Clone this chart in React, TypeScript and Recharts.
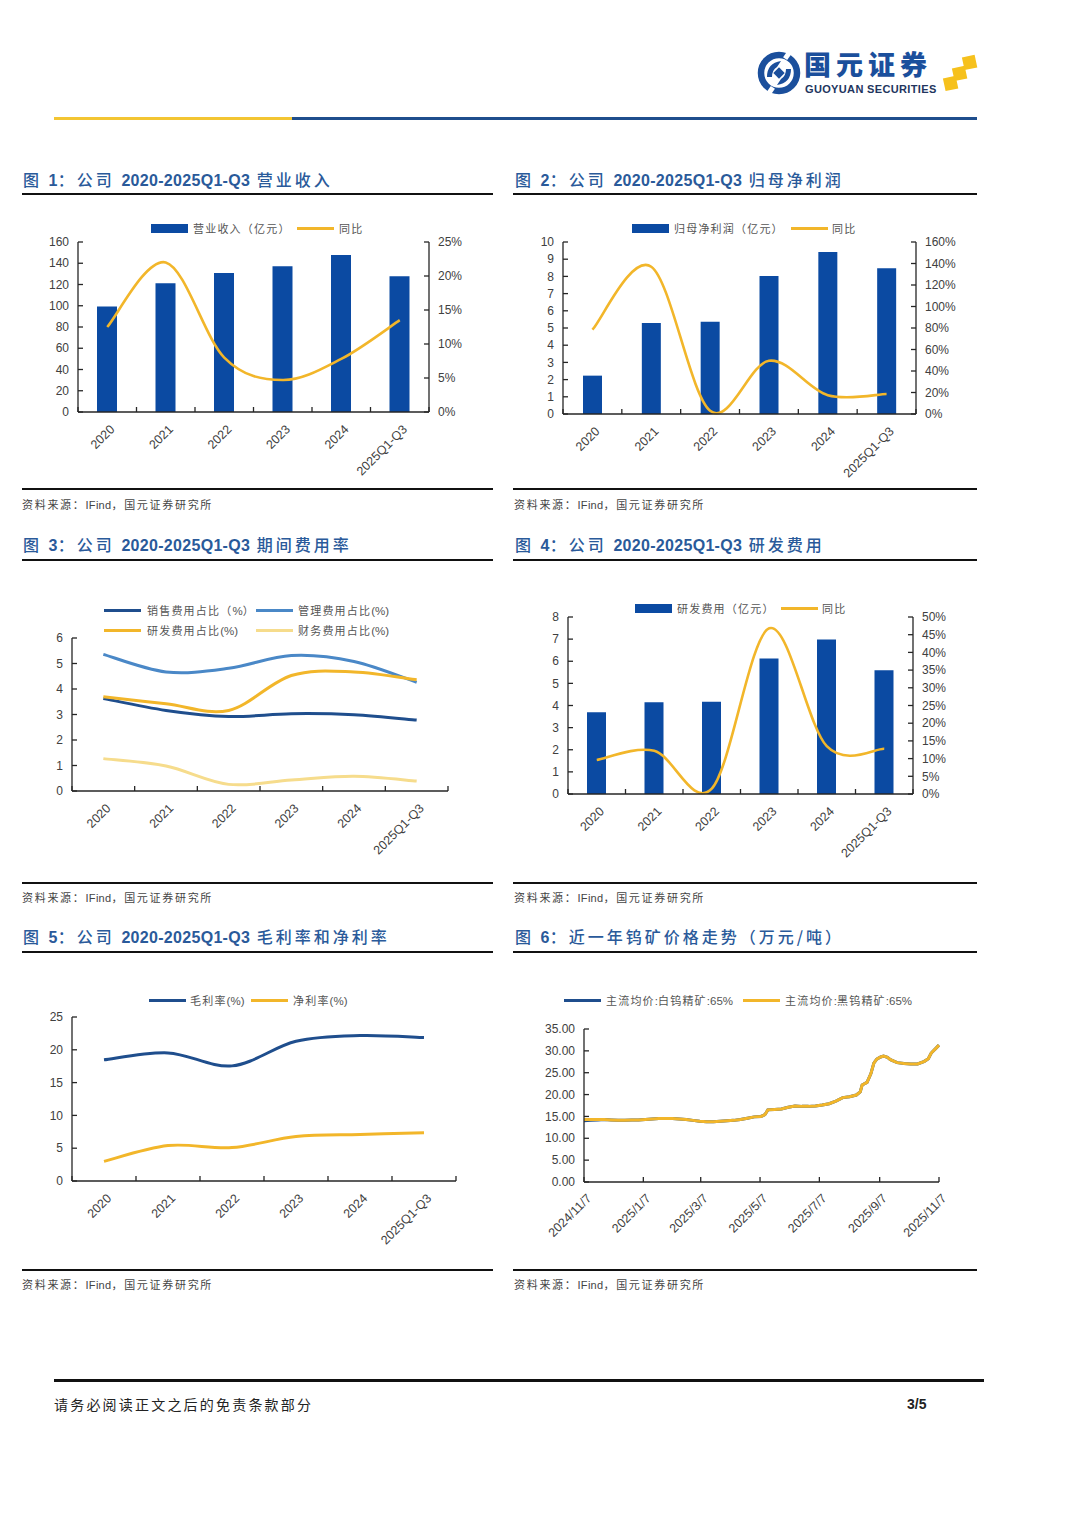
import React from 'react';
import { ComposedChart, LineChart, Bar, Line, XAxis, YAxis } from 'recharts';

// ---------------- DATA ----------------
const years = ['2020', '2021', '2022', '2023', '2024', '2025Q1-Q3'];

const revenue = [99.3, 121.2, 130.9, 137.1, 147.8, 127.7];
const revenueYoY = [12.5, 22.0, 8.0, 4.7, 7.8, 13.5];

const netProfit = [2.23, 5.29, 5.37, 8.02, 9.42, 8.47];
const netProfitYoY = [78.4, 137, 3.0, 49.5, 17.5, 18.6];

const salesRatio = [3.63, 3.16, 2.92, 3.03, 2.99, 2.78];
const adminRatio = [5.36, 4.67, 4.81, 5.31, 5.08, 4.26];
const rdRatio = [3.70, 3.42, 3.16, 4.53, 4.67, 4.36];
const finRatio = [1.27, 0.98, 0.26, 0.43, 0.58, 0.39];

const rdExpense = [3.70, 4.15, 4.17, 6.12, 6.98, 5.59];
const rdYoY = [9.6, 12.2, 1.5, 46.8, 13.5, 12.8];

const grossMargin = [18.47, 19.53, 17.55, 21.3, 22.17, 21.86];
const netMargin = [2.99, 5.4, 5.1, 6.78, 7.1, 7.34];

const priceDates = [
  '2024/11/7', '2024/11/14', '2024/11/21', '2024/11/28', '2024/12/5', '2024/12/12', '2024/12/19', '2024/12/26',
  '2025/1/2', '2025/1/9', '2025/1/16', '2025/1/23', '2025/1/30', '2025/2/6', '2025/2/13', '2025/2/20', '2025/2/27',
  '2025/3/6', '2025/3/13', '2025/3/20', '2025/3/27', '2025/4/3', '2025/4/10', '2025/4/17', '2025/4/24',
  '2025/5/1', '2025/5/8', '2025/5/12', '2025/5/15', '2025/5/22', '2025/5/29', '2025/6/5', '2025/6/12',
  '2025/6/19', '2025/6/26', '2025/7/3', '2025/7/10', '2025/7/17', '2025/7/24', '2025/7/31', '2025/8/7',
  '2025/8/14', '2025/8/18', '2025/8/20', '2025/8/25', '2025/8/29', '2025/9/1', '2025/9/4', '2025/9/8',
  '2025/9/11', '2025/9/15', '2025/9/18', '2025/9/25', '2025/10/2', '2025/10/9', '2025/10/16', '2025/10/23',
  '2025/10/27', '2025/10/30', '2025/11/3', '2025/11/7',
];
const blackTungsten = [
  14.3, 14.3, 14.3, 14.3, 14.2, 14.1, 14.1, 14.2,
  14.2, 14.3, 14.4, 14.5, 14.5, 14.5, 14.4, 14.3, 14.1,
  13.9, 13.8, 13.8, 13.9, 14.0, 14.1, 14.3, 14.6,
  14.9, 15.0, 15.4, 16.5, 16.6, 16.7, 17.1, 17.4,
  17.3, 17.3, 17.4, 17.6, 17.9, 18.5, 19.3, 19.5,
  19.9, 20.6, 22.2, 22.8, 24.8, 27.2, 28.1, 28.6,
  28.8, 28.5, 28.0, 27.3, 27.1, 27.0, 27.0, 27.6,
  28.2, 29.5, 30.4, 31.3,
];
const whiteTungsten = [
  14.0, 14.1, 14.2, 14.3, 14.2, 14.1, 14.1, 14.2,
  14.2, 14.3, 14.4, 14.5, 14.5, 14.5, 14.4, 14.3, 14.1,
  13.9, 13.8, 13.8, 13.9, 14.0, 14.1, 14.3, 14.6,
  14.9, 15.0, 15.4, 16.5, 16.6, 16.7, 17.1, 17.4,
  17.3, 17.3, 17.4, 17.6, 17.9, 18.5, 19.3, 19.5,
  19.9, 20.6, 22.2, 22.8, 24.8, 27.2, 28.1, 28.6,
  28.8, 28.5, 28.0, 27.3, 27.1, 27.0, 27.0, 27.6,
  28.2, 29.5, 30.4, 31.3,
];
const priceTickLabels = ['2024/11/7', '2025/1/7', '2025/3/7', '2025/5/7', '2025/7/7', '2025/9/7', '2025/11/7'];

// ---------------- STYLE ----------------
const BAR = '#0b4aa2';
const GOLD = '#f2b62a';
const DARKBLUE = '#1f4e8d';
const MIDBLUE = '#4a88c7';
const PALEGOLD = '#f6dc8c';
const AXIS = '#262626';
const TICK = '#404040';
const TITLE = '#2a5a9a';
const LATIN = '"Liberation Sans", Arial, "Noto Sans CJK SC", sans-serif';
const CJK = '"Noto Sans CJK SC", "Liberation Sans", sans-serif';

// Excel-like smoothed line (Catmull-Rom as cubic Bezier)
const excelSmooth: any = (context: any) => {
  let pts: number[][] = [];
  return {
    areaStart() {},
    areaEnd() {},
    lineStart() { pts = []; },
    point(x: number, y: number) { pts.push([+x, +y]); },
    lineEnd() {
      const n = pts.length;
      if (!n) return;
      context.moveTo(pts[0][0], pts[0][1]);
      for (let i = 0; i < n - 1; i++) {
        const p0 = pts[i - 1] || pts[i];
        const p1 = pts[i];
        const p2 = pts[i + 1];
        const p3 = pts[i + 2] || pts[i + 1];
        context.bezierCurveTo(
          p1[0] + (p2[0] - p0[0]) / 6, p1[1] + (p2[1] - p0[1]) / 6,
          p2[0] - (p3[0] - p1[0]) / 6, p2[1] - (p3[1] - p1[1]) / 6,
          p2[0], p2[1],
        );
      }
    },
  };
};

const catTicks = [0, 0.5, 1, 1.5, 2, 2.5, 3, 3.5, 4, 4.5, 5, 5.5, 6];
const axisLine = { stroke: AXIS, strokeWidth: 1.3 };

function CatTick(props: any) {
  const { x, y, payload, labels } = props;
  const v = payload.value;
  if (Number.isInteger(v)) {
    return <line x1={x} x2={x} y1={y} y2={y - 5} stroke={AXIS} strokeWidth={1.3} />;
  }
  const label = labels[Math.floor(v)];
  const tx = x + 5;
  const ty = y + 15;
  return (
    <text x={tx} y={ty} dy="0.35em" textAnchor="end" fontSize={12.5} fill={TICK} fontFamily={LATIN}
      transform={`rotate(-45 ${tx} ${ty})`}>{label}</text>
  );
}

function DateTick(props: any) {
  const { x, y, payload, labels } = props;
  const tx = x + 5;
  const ty = y + 14;
  return (
    <g>
      <line x1={x} x2={x} y1={y} y2={y - 5} stroke={AXIS} strokeWidth={1.3} />
      <text x={tx} y={ty} dy="0.35em" textAnchor="end" fontSize={12.5} fill={TICK} fontFamily={LATIN}
        transform={`rotate(-45 ${tx} ${ty})`}>{labels[payload.index] ?? ''}</text>
    </g>
  );
}

function LeftTick(props: any) {
  const { x, y, payload, fmt } = props;
  return (
    <g>
      <line x1={x + 9} x2={x + 14} y1={y} y2={y} stroke={AXIS} strokeWidth={1.3} />
      <text x={x} y={y} dy="0.35em" textAnchor="end" fontSize={12} fill={TICK} fontFamily={LATIN}>
        {fmt ? fmt(payload.value) : payload.value}
      </text>
    </g>
  );
}

function RightTick(props: any) {
  const { x, y, payload, fmt } = props;
  return (
    <g>
      <line x1={x - 9} x2={x - 14} y1={y} y2={y} stroke={AXIS} strokeWidth={1.3} />
      <text x={x} y={y} dy="0.35em" textAnchor="start" fontSize={12} fill={TICK} fontFamily={LATIN}>
        {fmt ? fmt(payload.value) : payload.value}
      </text>
    </g>
  );
}

type Plot = { l: number; r: number; t: number; b: number };
const LW = 55;
const RW = 60;
const TOPM = 12;
const XH = 80;

function frame(p: Plot) {
  return {
    left: p.l - LW,
    top: p.t - TOPM,
    width: p.r - p.l + LW + RW,
    height: p.b - p.t + TOPM + XH,
  };
}

function BarLineChart(props: {
  plot: Plot; bars: number[]; yoy: number[]; lDomain: number[]; lTicks: number[];
  rDomain: number[]; rTicks: number[]; barSize: number;
}) {
  const { plot, bars, yoy, lDomain, lTicks, rDomain, rTicks, barSize } = props;
  const f = frame(plot);
  const data = years.map((c, i) => ({ x: i + 0.5, cat: c, bar: bars[i], yoy: yoy[i] }));
  return (
    <div style={{ position: 'absolute', left: f.left, top: f.top }}>
      <ComposedChart width={f.width} height={f.height} data={data} margin={{ top: TOPM, right: 0, bottom: 0, left: 0 }}>
        <XAxis dataKey="x" type="number" domain={[0, 6]} ticks={catTicks} interval={0} tickSize={0} tickMargin={0}
          height={XH} tickLine={false} axisLine={axisLine} tick={(p: any) => <CatTick {...p} labels={years} />} />
        <YAxis yAxisId="l" type="number" domain={lDomain} ticks={lTicks} interval={0} width={LW} tickSize={0}
          tickMargin={9} tickLine={false} axisLine={axisLine} tick={(p: any) => <LeftTick {...p} />} />
        <YAxis yAxisId="r" orientation="right" type="number" domain={rDomain} ticks={rTicks} interval={0} width={RW}
          tickSize={0} tickMargin={9} tickLine={false} axisLine={axisLine}
          tick={(p: any) => <RightTick {...p} fmt={(v: number) => `${v}%`} />} />
        <Bar yAxisId="l" dataKey="bar" fill={BAR} barSize={barSize} isAnimationActive={false} />
        <Line yAxisId="r" dataKey="yoy" type={excelSmooth} stroke={GOLD} strokeWidth={2.6} dot={false}
          activeDot={false} isAnimationActive={false} />
      </ComposedChart>
    </div>
  );
}

function MultiLineChart(props: {
  plot: Plot; series: { values: number[]; color: string }[]; domain: number[]; ticks: number[];
}) {
  const { plot, series, domain, ticks } = props;
  const f = frame(plot);
  const data = years.map((c, i) => {
    const row: any = { x: i + 0.5, cat: c };
    series.forEach((s, k) => { row[`s${k}`] = s.values[i]; });
    return row;
  });
  return (
    <div style={{ position: 'absolute', left: f.left, top: f.top }}>
      <LineChart width={f.width} height={f.height} data={data} margin={{ top: TOPM, right: RW, bottom: 0, left: 0 }}>
        <XAxis dataKey="x" type="number" domain={[0, 6]} ticks={catTicks} interval={0} tickSize={0} tickMargin={0}
          height={XH} tickLine={false} axisLine={axisLine} tick={(p: any) => <CatTick {...p} labels={years} />} />
        <YAxis type="number" domain={domain} ticks={ticks} interval={0} width={LW} tickSize={0}
          tickMargin={9} tickLine={false} axisLine={axisLine} tick={(p: any) => <LeftTick {...p} />} />
        {series.map((s, k) => (
          <Line key={k} dataKey={`s${k}`} type={excelSmooth} stroke={s.color} strokeWidth={3} dot={false}
            activeDot={false} isAnimationActive={false} />
        ))}
      </LineChart>
    </div>
  );
}

const dayOf = (s: string) => {
  const [y, m, d] = s.split('/').map(Number);
  return Math.round((Date.UTC(y, m - 1, d) - Date.UTC(2024, 10, 7)) / 86400000);
};

function PriceChart({ plot }: { plot: Plot }) {
  const f = frame(plot);
  const data = priceDates.map((d, i) => ({ day: dayOf(d), white: whiteTungsten[i], black: blackTungsten[i] }));
  const ticks = priceTickLabels.map(dayOf);
  return (
    <div style={{ position: 'absolute', left: f.left, top: f.top }}>
      <LineChart width={f.width} height={f.height} data={data} margin={{ top: TOPM, right: RW, bottom: 0, left: 0 }}>
        <XAxis dataKey="day" type="number" domain={[0, 365]} ticks={ticks} interval={0} tickSize={0} tickMargin={0}
          height={XH} tickLine={false} axisLine={axisLine} tick={(p: any) => <DateTick {...p} labels={priceTickLabels} />} />
        <YAxis type="number" domain={[0, 35]} ticks={[0, 5, 10, 15, 20, 25, 30, 35]} interval={0} width={LW}
          tickSize={0} tickMargin={9} tickLine={false} axisLine={axisLine}
          tick={(p: any) => <LeftTick {...p} fmt={(v: number) => v.toFixed(2)} />} />
        <Line dataKey="white" type="linear" stroke={DARKBLUE} strokeWidth={3} dot={false} activeDot={false}
          isAnimationActive={false} />
        <Line dataKey="black" type="linear" stroke={GOLD} strokeWidth={3} dot={false} activeDot={false}
          isAnimationActive={false} />
      </LineChart>
    </div>
  );
}

// ---------------- PAGE PIECES ----------------
function Title({ x, y, text }: { x: number; y: number; text: string }) {
  const parts = text.split(/([0-9A-Za-z\-]+)/).filter((s) => s.length);
  return (
    <div style={{ position: 'absolute', left: x, top: y - 11, height: 22, lineHeight: '22px', whiteSpace: 'nowrap',
      color: TITLE, fontSize: 16 }}>
      {parts.map((p, i) => /[0-9A-Za-z]/.test(p)
        ? <span key={i} style={{ fontFamily: LATIN, fontWeight: 700, letterSpacing: 0.3 }}>{p}</span>
        : <span key={i} style={{ fontFamily: CJK, fontWeight: 500, letterSpacing: 3 }}>{p}</span>)}
    </div>
  );
}

function HLine({ x1, x2, y, h, color }: { x1: number; x2: number; y: number; h: number; color?: string }) {
  return <div style={{ position: 'absolute', left: x1, top: y - h / 2, width: x2 - x1, height: h, background: color || '#111' }} />;
}

function Source({ x, y }: { x: number; y: number }) {
  return (
    <div style={{ position: 'absolute', left: x, top: y - 8, height: 16, lineHeight: '16px', fontSize: 11,
      color: '#444', fontFamily: CJK, letterSpacing: 1.7, whiteSpace: 'nowrap' }}>
      资料来源：<span style={{ fontFamily: LATIN, letterSpacing: 0.3 }}>IFind</span>，国元证券研究所
    </div>
  );
}

type LegendItem = { x: number; text: string; color: string; kind: 'rect' | 'line'; textX: number };
function Legend({ y, items }: { y: number; items: LegendItem[] }) {
  return (
    <>
      {items.map((it, i) => (
        <React.Fragment key={i}>
          <div style={{ position: 'absolute', left: it.x, top: y - (it.kind === 'rect' ? 4.5 : 1.5), width: 37,
            height: it.kind === 'rect' ? 9 : 3, background: it.color }} />
          <div style={{ position: 'absolute', left: it.textX, top: y - 8, height: 16, lineHeight: '16px',
            fontSize: 11, color: '#555', fontFamily: CJK, letterSpacing: 1.2, whiteSpace: 'nowrap' }}>
            {it.text.split(/([0-9%:()]+)/).filter((s) => s.length).map((s, k) => /[0-9%:()]/.test(s)
              ? <span key={k} style={{ fontFamily: LATIN, letterSpacing: 0, fontSize: 11.5 }}>{s}</span>
              : <span key={k}>{s}</span>)}
          </div>
        </React.Fragment>
      ))}
    </>
  );
}

function Header() {
  const cx = 779;
  const cy = 73;
  return (
    <>
      <svg style={{ position: 'absolute', left: 0, top: 0 }} width={1080} height={110}>
        <circle cx={cx} cy={cy} r={18} fill="none" stroke="#1b4f9c" strokeWidth={6.5} />
        <rect x={cx + 6} y={cy - 23} width={5} height={9} fill="#fff" transform={`rotate(35 ${cx + 8} ${cy - 18})`} />
        <rect x={cx - 11} y={cy + 14} width={5} height={9} fill="#fff" transform={`rotate(35 ${cx - 8} ${cy + 18})`} />
        <path d={`M ${cx - 12} ${cy + 4} Q ${cx - 12} ${cy - 10} ${cx + 2} ${cy - 12} L ${cx - 2} ${cy - 6} Q ${cx - 7} ${cy - 3} ${cx - 7} ${cy + 4} Z`} fill="#1b4f9c" />
        <path d={`M ${cx + 12} ${cy - 4} Q ${cx + 12} ${cy + 10} ${cx - 2} ${cy + 12} L ${cx + 2} ${cy + 6} Q ${cx + 7} ${cy + 3} ${cx + 7} ${cy - 4} Z`} fill="#1b4f9c" />
        <rect x={cx - 4} y={cy - 4} width={8} height={8} fill="#1b4f9c" transform={`rotate(45 ${cx} ${cy})`} />
        <rect x={944} y={77} width={13} height={13} fill="#f6c11d" transform="rotate(-12 950 83)" />
        <rect x={953} y={67} width={13} height={13} fill="#f6c11d" transform="rotate(-12 959 73)" />
        <rect x={963} y={56} width={13} height={13} fill="#f6c11d" transform="rotate(-12 969 62)" />
      </svg>
      <div style={{ position: 'absolute', left: 804, top: 48, fontSize: 27, lineHeight: '32px', fontWeight: 900,
        color: '#1b4f9c', fontFamily: CJK, letterSpacing: 5, whiteSpace: 'nowrap' }}>国元证券</div>
      <div style={{ position: 'absolute', left: 805, top: 83, fontSize: 11, lineHeight: '13px', fontWeight: 700,
        color: '#22355e', fontFamily: LATIN, letterSpacing: 0.35, whiteSpace: 'nowrap' }}>GUOYUAN SECURITIES</div>
      <HLine x1={54} x2={292} y={118} h={3} color="#f3c532" />
      <HLine x1={292} x2={977} y={118} h={3} color="#1f4e8d" />
    </>
  );
}

export default function App() {
  return (
    <div style={{ position: 'absolute', left: 0, top: 0, width: 1080, height: 1527, background: '#fff', overflow: 'hidden' }}>
      <Header />

      {/* Row 1 */}
      <Title x={23} y={179} text="图 1：公司 2020-2025Q1-Q3 营业收入" />
      <HLine x1={22} x2={493} y={194} h={2} />
      <Legend y={228} items={[
        { x: 151, textX: 193, text: '营业收入（亿元）', color: BAR, kind: 'rect' },
        { x: 297, textX: 339, text: '同比', color: GOLD, kind: 'line' },
      ]} />
      <BarLineChart plot={{ l: 78, r: 429, t: 242, b: 412 }} bars={revenue} yoy={revenueYoY}
        lDomain={[0, 160]} lTicks={[0, 20, 40, 60, 80, 100, 120, 140, 160]}
        rDomain={[0, 25]} rTicks={[0, 5, 10, 15, 20, 25]} barSize={20} />
      <HLine x1={22} x2={493} y={489} h={2} />
      <Source x={22} y={504} />

      <Title x={515} y={179} text="图 2：公司 2020-2025Q1-Q3 归母净利润" />
      <HLine x1={513} x2={977} y={194} h={2} />
      <Legend y={228} items={[
        { x: 632, textX: 674, text: '归母净利润（亿元）', color: BAR, kind: 'rect' },
        { x: 791, textX: 832, text: '同比', color: GOLD, kind: 'line' },
      ]} />
      <BarLineChart plot={{ l: 563, r: 916, t: 242, b: 414 }} bars={netProfit} yoy={netProfitYoY}
        lDomain={[0, 10]} lTicks={[0, 1, 2, 3, 4, 5, 6, 7, 8, 9, 10]}
        rDomain={[0, 160]} rTicks={[0, 20, 40, 60, 80, 100, 120, 140, 160]} barSize={19} />
      <HLine x1={513} x2={977} y={489} h={2} />
      <Source x={514} y={504} />

      {/* Row 2 */}
      <Title x={23} y={544} text="图 3：公司 2020-2025Q1-Q3 期间费用率" />
      <HLine x1={22} x2={493} y={560} h={2} />
      <Legend y={610} items={[
        { x: 104, textX: 147, text: '销售费用占比（%）', color: DARKBLUE, kind: 'line' },
        { x: 256, textX: 298, text: '管理费用占比(%)', color: MIDBLUE, kind: 'line' },
      ]} />
      <Legend y={630} items={[
        { x: 104, textX: 147, text: '研发费用占比(%)', color: GOLD, kind: 'line' },
        { x: 256, textX: 298, text: '财务费用占比(%)', color: PALEGOLD, kind: 'line' },
      ]} />
      <MultiLineChart plot={{ l: 72, r: 448, t: 638, b: 791 }} domain={[0, 6]} ticks={[0, 1, 2, 3, 4, 5, 6]}
        series={[
          { values: finRatio, color: PALEGOLD },
          { values: adminRatio, color: MIDBLUE },
          { values: salesRatio, color: DARKBLUE },
          { values: rdRatio, color: GOLD },
        ]} />
      <HLine x1={22} x2={493} y={883} h={2} />
      <Source x={22} y={897} />

      <Title x={515} y={544} text="图 4：公司 2020-2025Q1-Q3 研发费用" />
      <HLine x1={513} x2={977} y={560} h={2} />
      <Legend y={608} items={[
        { x: 635, textX: 677, text: '研发费用（亿元）', color: BAR, kind: 'rect' },
        { x: 781, textX: 822, text: '同比', color: GOLD, kind: 'line' },
      ]} />
      <BarLineChart plot={{ l: 568, r: 913, t: 617, b: 794 }} bars={rdExpense} yoy={rdYoY}
        lDomain={[0, 8]} lTicks={[0, 1, 2, 3, 4, 5, 6, 7, 8]}
        rDomain={[0, 50]} rTicks={[0, 5, 10, 15, 20, 25, 30, 35, 40, 45, 50]} barSize={19} />
      <HLine x1={513} x2={977} y={883} h={2} />
      <Source x={514} y={897} />

      {/* Row 3 */}
      <Title x={23} y={936} text="图 5：公司 2020-2025Q1-Q3 毛利率和净利率" />
      <HLine x1={22} x2={493} y={952} h={2} />
      <Legend y={1000} items={[
        { x: 149, textX: 190, text: '毛利率(%)', color: DARKBLUE, kind: 'line' },
        { x: 251, textX: 293, text: '净利率(%)', color: GOLD, kind: 'line' },
      ]} />
      <MultiLineChart plot={{ l: 72, r: 456, t: 1017, b: 1181 }} domain={[0, 25]} ticks={[0, 5, 10, 15, 20, 25]}
        series={[
          { values: grossMargin, color: DARKBLUE },
          { values: netMargin, color: GOLD },
        ]} />
      <HLine x1={22} x2={493} y={1270} h={2} />
      <Source x={22} y={1284} />

      <Title x={515} y={936} text="图 6：近一年钨矿价格走势（万元/吨）" />
      <HLine x1={513} x2={977} y={952} h={2} />
      <Legend y={1000} items={[
        { x: 564, textX: 606, text: '主流均价:白钨精矿:65%', color: DARKBLUE, kind: 'line' },
        { x: 743, textX: 785, text: '主流均价:黑钨精矿:65%', color: GOLD, kind: 'line' },
      ]} />
      <PriceChart plot={{ l: 584, r: 939, t: 1029, b: 1182 }} />
      <HLine x1={513} x2={977} y={1270} h={2} />
      <Source x={514} y={1284} />

      {/* Footer */}
      <HLine x1={54} x2={984} y={1380} h={3} />
      <div style={{ position: 'absolute', left: 54, top: 1395, fontSize: 14, lineHeight: '18px', color: '#222',
        fontFamily: CJK, letterSpacing: 2.2, whiteSpace: 'nowrap' }}>请务必阅读正文之后的免责条款部分</div>
      <div style={{ position: 'absolute', left: 907, top: 1395, fontSize: 14, lineHeight: '18px', color: '#222',
        fontFamily: LATIN, fontWeight: 700, whiteSpace: 'nowrap' }}>3/5</div>
    </div>
  );
}
